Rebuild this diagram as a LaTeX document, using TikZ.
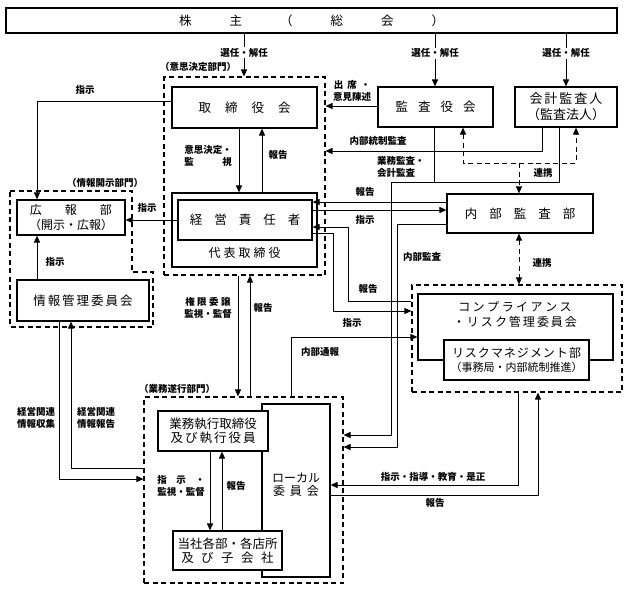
\documentclass[tikz,border=0pt]{standalone}
\usepackage{fontspec}
\newfontfamily\jp{Noto Sans CJK JP}
\usetikzlibrary{arrows.meta}
\newcommand\gp[1]{\hspace{#1pt}}
\begin{document}
\begin{tikzpicture}[x=1pt,y=-1pt,font=\jp,
  box/.style={draw,line width=1.2pt,fill=white,inner sep=0pt,align=center,font=\jp\fontsize{12.5}{15}\selectfont},
  dline/.style={line width=1.1pt,dash pattern=on 5pt off 3.5pt},
  dbox/.style={dline,draw,inner sep=0pt},
  lab/.style={font=\jp\bfseries\fontsize{9.5}{11.5}\selectfont,inner sep=1pt,align=center},
  txt/.style={inner sep=0pt,align=center,font=\jp\fontsize{12.5}{14}\selectfont},
  ln/.style={line width=1pt},
  arr/.style={line width=1pt,-{Triangle[length=7pt,width=6pt]}},
  darr/.style={line width=1pt,dash pattern=on 5pt off 3.5pt,{Triangle[length=7pt,width=6pt]}-{Triangle[length=7pt,width=6pt]}},
  dlend/.style={line width=1pt,dash pattern=on 5pt off 3.5pt,-{Triangle[length=7pt,width=6pt]}}
]
\useasboundingbox (0,0) rectangle (627,590);

% dashed groups
\node[dbox,minimum width=161pt,minimum height=198pt] (dm) at (244.5,176) {};
\node[dbox,minimum width=210pt,minimum height=107pt] (cdash) at (517,338.5) {};
\node[dbox,minimum width=199pt,minimum height=186pt] (gyomu) at (243.5,490) {};
\draw[dline] (10,191) -- (132,191) -- (132,272) -- (153,272) -- (153,327) -- (10,327) -- cycle;

% boxes
\node[box,minimum width=611pt,minimum height=25pt] (top) at (311.5,20.5)
  {株\gp{38}主\gp{38}（\gp{38}総\gp{38}会\gp{38}）};
\node[box,minimum width=145pt,minimum height=41pt] (tori) at (244.5,107.5)
  {取\gp{14}締\gp{14}役\gp{14}会};
\node[box,minimum width=115pt,minimum height=40pt] (kansa) at (435.5,107)
  {監\gp{10}査\gp{10}役\gp{10}会};
\node[box,minimum width=102pt,minimum height=40pt,font=\jp\fontsize{13}{16}\selectfont] (kaikei) at (566,107)
  {会\gp{2}計\gp{2}監\gp{2}査\gp{2}人\\（監査法人）};
\node[box,minimum width=145pt,minimum height=74pt] (daihyo) at (244.5,230) {};
\node[txt,font=\jp\fontsize{12}{14}\selectfont] (daihyot) at (244.5,253) {代\gp{3}表\gp{3}取\gp{3}締\gp{3}役};
\node[box,minimum width=134pt,minimum height=40pt] (keiei) at (245,220)
  {経\gp{12}営\gp{12}責\gp{12}任\gp{12}者};
\node[box,minimum width=108pt,minimum height=35pt,font=\jp\fontsize{12}{15}\selectfont] (koho) at (71,217.5)
  {広\gp{23}報\gp{23}部\\（開示・広報）};
\node[box,minimum width=132pt,minimum height=41pt] (joho) at (83,300.5)
  {情\gp{2}報\gp{2}管\gp{2}理\gp{2}委\gp{2}員\gp{2}会};
\node[box,minimum width=146pt,minimum height=39pt] (naibu) at (520,213.5)
  {内\gp{12}部\gp{12}監\gp{12}査\gp{12}部};
\node[box,minimum width=195pt,minimum height=66pt] (comp) at (515.5,327) {};
\node[txt,font=\jp\fontsize{12}{15}\selectfont] (compt) at (515,314.5)
  {コ\gp{2.5}ン\gp{2.5}プ\gp{2.5}ラ\gp{2.5}イ\gp{2.5}ア\gp{2.5}ン\gp{2.5}ス\\・\gp{2}リ\gp{2}ス\gp{2}ク\gp{2}管\gp{2}理\gp{2}委\gp{2}員\gp{2}会};
\node[box,minimum width=145pt,minimum height=40pt,font=\jp\fontsize{12}{14}\selectfont] (risk) at (516.5,360)
  {リ\gp{1}ス\gp{1}ク\gp{1}マ\gp{1}ネ\gp{1}ジ\gp{1}メ\gp{1}ン\gp{1}ト\gp{1}部\\{\fontsize{11}{14}\selectfont（事務局・内部統制推進）}};
\node[box,minimum width=68pt,minimum height=173pt] (local) at (296,490.5) {};
\node[txt,font=\jp\fontsize{12}{12.5}\selectfont] (localt) at (296,485) {ローカル\\委\gp{5}員\gp{5}会};
\node[box,minimum width=110pt,minimum height=40pt,font=\jp\fontsize{12.5}{14}\selectfont] (gyoshi) at (213,431)
  {業務執行取締役\\及\gp{2}び\gp{2}執\gp{2}行\gp{2}役\gp{2}員};
\node[box,minimum width=109pt,minimum height=39pt,font=\jp\fontsize{12.5}{14}\selectfont] (tosha) at (227.5,550.5)
  {当社各部・各店所\\及\gp{7.5}び\gp{7.5}子\gp{7.5}会\gp{7.5}社};

% group labels
\node[lab] (g1) at (198,67) {（意思決定部門）};
\node[lab] (g2) at (105,183) {（情報開示部門）};
\node[lab] (g3) at (177,389) {（業務遂行部門）};

% shareholders
\draw[arr] (top.south -| 244,0) -- node[lab,fill=white,pos=0.45]{選任・解任} (dm.north -| 244,0);
\draw[arr] (top.south -| 435,0) -- node[lab,fill=white,pos=0.37]{選任・解任} (kansa.north -| 435,0);
\draw[arr] (top.south -| 566,0) -- node[lab,fill=white,pos=0.37]{選任・解任} (kaikei.north -| 566,0);

% board
\draw[arr] (tori.west |- 0,101) -| (koho.north -| 37,0);
\node[lab] (l1) at (85,90) {指示};
\draw[arr] (kansa.west |- 0,106) -- (dm.east |- 0,106);
\node[lab] (l2) at (352,91) {出\gp{4}席\gp{4}・\\意見陳述};
\draw[arr] (tori.south -| 239,0) -- (daihyo.north -| 239,0);
\draw[arr] (daihyo.north -| 262,0) -- (tori.south -| 262,0);
\node[lab] (l3) at (208,156) {意思決定・\\\makebox[47.5pt]{監\hfill 視}};
\node[lab] (l4) at (278,155) {報告};

% disclosure
\draw[arr] (keiei.west |- 0,220) -- (koho.east |- 0,220);
\node[lab] (l5) at (147,208) {指示};
\draw[arr] (joho.north -| 37,0) -- (koho.south -| 37,0);
\node[lab] (l6) at (55,262) {指示};

% audit
\draw[arr] (kaikei.south -| 542,0) |- (dm.east |- 0,151);
\node[lab] (l7) at (378,141) {内部統制監査};
\draw[ln] (kansa.south -| 434,0) -- (434,182);
\draw[arr] (kaikei.south -| 559,0) |- (391,182) |- (gyomu.east |- 0,435);
\node[lab,anchor=west,align=left] (l8) at (376,167) {業務監査・\\会計監査};
\draw[darr] (kansa.south -| 463,0) -- (463,163) -- (576,163) -- (kaikei.south -| 576,0);
\draw[dlend] (519,163) -- (naibu.north -| 519,0);
\node[lab] (l9) at (543,173) {連携};

\draw[arr] (naibu.west |- 0,202) -- (keiei.east |- 0,202);
\draw[arr] (keiei.east |- 0,210) -- (naibu.west |- 0,210);
\node[lab] (l10) at (365,192) {報告};
\node[lab] (l11) at (365,220) {指示};
\draw[arr] (naibu.west |- 0,224) -| (397,447) -- (gyomu.east |- 0,447);
\node[lab] (l12) at (422,257) {内部監査};
\draw[darr] (naibu.south -| 519,0) -- (cdash.north -| 519,0);
\node[lab] (l13) at (542,263) {連携};

% compliance
\draw[arr] (cdash.west |- 0,301) -| (348,227) -- (keiei.east |- 0,227);
\node[lab] (l14) at (368,289) {報告};
\draw[arr] (keiei.east |- 0,233) -| (333,311) -- (cdash.west |- 0,311);
\node[lab] (l15) at (352,323) {指示};
\draw[arr] (gyomu.north -| 291,0) |- (comp.west |- 0,337);
\node[lab] (l16) at (320,352) {内部通報};

% delegation
\draw[arr] (dm.south -| 238,0) -- (gyomu.north -| 238,0);
\draw[arr] (gyomu.north -| 250,0) -- (dm.south -| 250,0);
\node[lab] (l17) at (208,308) {権\gp{2.5}限\gp{2.5}委\gp{2.5}譲\\監視・監督};
\node[lab] (l18) at (263,308) {報告};

% information
\draw[arr] (joho.south -| 59,0) |- (gyomu.west |- 0,479);
\draw[arr] (gyomu.west |- 0,468) -| (joho.south -| 71,0);
\node[lab] (l19) at (36,418) {経営関連\\情報収集};
\node[lab] (l20) at (96,418) {経営関連\\情報報告};

% execution
\draw[arr] (gyoshi.south -| 210,0) -- (tosha.north -| 210,0);
\draw[arr] (tosha.north -| 222,0) -- (gyoshi.south -| 222,0);
\node[lab] (l21) at (181,486) {指\gp{9.5}示\gp{9.5}・\\監視・監督};
\node[lab] (l22) at (236,486) {報告};

% local
\draw[arr] (cdash.south -| 518,0) |- (local.east |- 0,485);
\node[lab] (l23) at (433,477) {指示・指導・教育・是正};
\draw[arr] (local.east |- 0,495) -| (cdash.south -| 538,0);
\node[lab] (l24) at (435,503) {報告};
\end{tikzpicture}
\end{document}
